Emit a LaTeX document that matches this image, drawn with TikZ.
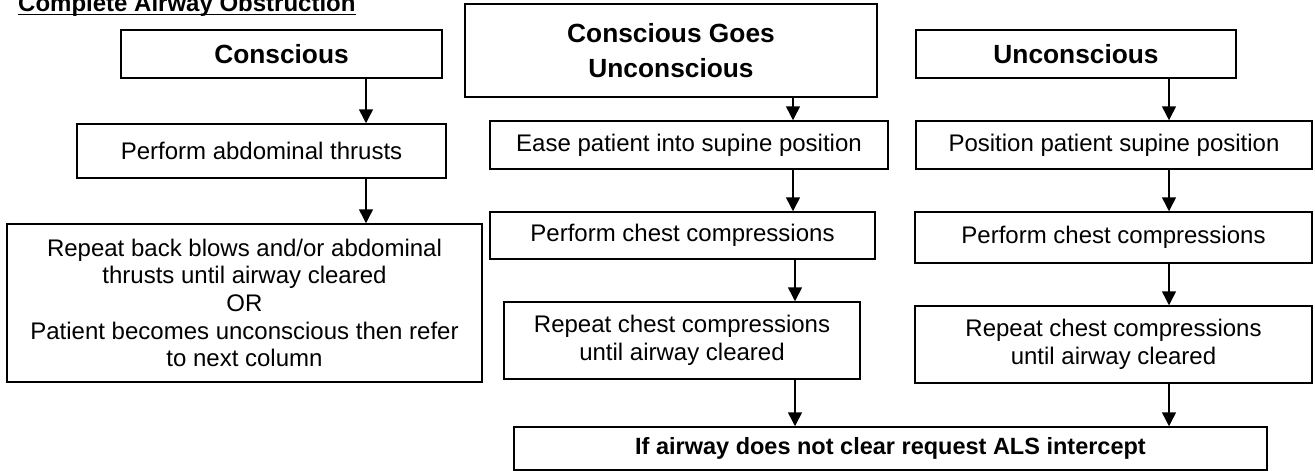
\documentclass[tikz,border=0pt]{standalone}
\usepackage{fontspec}
\setmainfont{Liberation Sans}
\usetikzlibrary{arrows.meta}
\tikzset{
  box/.style={draw=black, line width=1.5pt, inner sep=0pt, align=center, anchor=center,
    font=\fontsize{24}{27.6}\selectfont},
  headbox/.style={box, font=\bfseries\fontsize{26.3}{35}\selectfont},
  finbox/.style={box, font=\bfseries\fontsize{23.5}{27}\selectfont},
  arr/.style={line width=1.5pt, -{Triangle[length=14pt,width=14pt]}},
  titletext/.style={inner sep=0pt, anchor=base west, font=\bfseries\fontsize{24}{27}\selectfont}
}
\begin{document}
\begin{tikzpicture}[x=1pt,y=-1pt]
\useasboundingbox (0,0) rectangle (1315,474);
\fill[white] (0,0) rectangle (1315,474);
% title
\node[titletext] (title) at (18,11) {Complete Airway Obstruction};
\draw[line width=1.8pt] ([yshift=-3.5pt]title.base west) -- ([yshift=-3.5pt]title.base east);
% left column
\node[headbox, minimum width=321pt, minimum height=48pt] (cons) at (281.5,54) {Conscious};
\node[box, minimum width=369pt, minimum height=54pt] (pat) at (261.5,151) {Perform abdominal thrusts};
\node[box, minimum width=475pt, minimum height=158pt] (rep1) at (244.5,303)
  {Repeat back blows and/or abdominal\\thrusts until airway cleared\\OR\\Patient becomes unconscious then refer\\to next column};
% middle column
\node[headbox, minimum width=412pt, minimum height=93pt] (cgu) at (671,50.5) {Conscious Goes\\Unconscious};
\node[box, minimum width=398pt, minimum height=48pt] (ease) at (689,145) {Ease patient into supine position};
\node[box, minimum width=385pt, minimum height=47pt] (pcm) at (682.5,235.5) {Perform chest compressions};
\node[box, minimum width=356pt, minimum height=77pt] (rcm) at (682,340.5) {Repeat chest compressions\\until airway cleared};
% right column
\node[headbox, minimum width=320pt, minimum height=48pt] (unc) at (1076,54) {Unconscious};
\node[box, minimum width=396pt, minimum height=48pt] (pos) at (1114,145) {Position patient supine position};
\node[box, minimum width=397pt, minimum height=51pt] (pcr) at (1113.5,237.5) {Perform chest compressions};
\node[box, minimum width=397pt, minimum height=77pt] (rcr) at (1113.5,344.5) {Repeat chest compressions\\until airway cleared};
% final
\node[finbox, minimum width=753pt, minimum height=43pt] (fin) at (890.5,448.5) {If airway does not clear request ALS intercept};
% arrow columns
\coordinate (xa) at (366,0);
\coordinate (xb) at (793,0);
\coordinate (xc) at (795,0);
\coordinate (xd) at (1169,0);
\draw[arr] (cons.south -| xa) -- (pat.north -| xa);
\draw[arr] (pat.south -| xa) -- (rep1.north -| xa);
\draw[arr] (cgu.south -| xb) -- (ease.north -| xb);
\draw[arr] (ease.south -| xb) -- (pcm.north -| xb);
\draw[arr] (pcm.south -| xc) -- (rcm.north -| xc);
\draw[arr] (rcm.south -| xc) -- (fin.north -| xc);
\draw[arr] (unc.south -| xd) -- (pos.north -| xd);
\draw[arr] (pos.south -| xd) -- (pcr.north -| xd);
\draw[arr] (pcr.south -| xd) -- (rcr.north -| xd);
\draw[arr] (rcr.south -| xd) -- (fin.north -| xd);
\end{tikzpicture}
\end{document}
